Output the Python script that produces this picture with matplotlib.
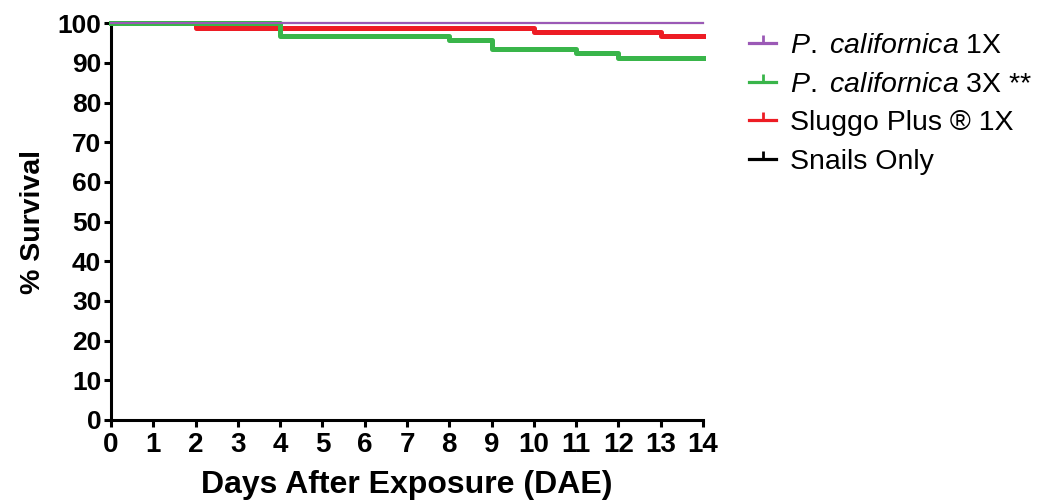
import matplotlib
matplotlib.use("Agg")
import matplotlib.pyplot as plt
from matplotlib.lines import Line2D
from matplotlib.path import Path

plt.rcParams['font.family'] = ['Liberation Sans', 'DejaVu Sans']
plt.rcParams['mathtext.fontset'] = 'custom'
plt.rcParams['mathtext.it'] = 'Liberation Sans:italic'
plt.rcParams['mathtext.rm'] = 'Liberation Sans'

# Data (Kaplan-Meier step curves)
snails_days = [0, 14]
snails_surv = [100, 100]
pc1_days = [0, 14]
pc1_surv = [100, 100]
pc3_days = [0, 4, 8, 9, 11, 12, 14]
pc3_surv = [100, 96.8, 95.7, 93.5, 92.4, 91.3, 91.3]
sluggo_days = [0, 2, 10, 13, 14]
sluggo_surv = [100, 98.9, 97.8, 96.8, 96.8]

labels = [r'$\mathit{P.}$ $\mathit{californica}$ 1X', r'$\mathit{P.}$ $\mathit{californica}$ 3X **',
          'Sluggo Plus ® 1X', 'Snails Only']
colors = ['#9B59B6', '#39B54A', '#ED1C24', '#000000']

x_ticks = list(range(0, 15))
y_ticks = list(range(0, 101, 10))

fig = plt.figure(figsize=(10.49, 5.04), dpi=100)
ax = fig.add_axes([0.1058, 0.1667, 0.5644, 0.7871])

ax.step(snails_days, snails_surv, where='post', color=colors[3], lw=1.5, clip_on=False, zorder=2)
ax.step(sluggo_days, sluggo_surv, where='post', color=colors[2], lw=3.6, clip_on=False, zorder=3)
ax.step(pc3_days, pc3_surv, where='post', color=colors[1], lw=3.6, clip_on=False, zorder=4)
ax.step(pc1_days, pc1_surv, where='post', color=colors[0], lw=1.5, clip_on=False, zorder=5)

ax.set_xlim(0, 14)
ax.set_ylim(0, 100)
ax.set_xticks(x_ticks)
ax.set_yticks(y_ticks)
for s in ['top', 'right']:
    ax.spines[s].set_visible(False)
for s in ['left', 'bottom']:
    ax.spines[s].set_linewidth(2.2)
ax.tick_params(axis='both', direction='out', length=5, width=2.2, pad=2)
ax.tick_params(axis='x', labelsize=20, pad=4)
ax.tick_params(axis='y', labelsize=19)
for lbl in ax.get_xticklabels() + ax.get_yticklabels():
    lbl.set_fontweight('bold')
ax.set_xlabel('Days After Exposure (DAE)', fontsize=23, fontweight='bold', labelpad=8)
ax.set_ylabel('% Survival', fontsize=20.5, fontweight='bold', labelpad=8)

tee = Path([(0, 0), (0, 1)], [Path.MOVETO, Path.LINETO])
handles = [Line2D([], [], color=c, lw=2.3, marker=tee, markersize=11,
                  markeredgewidth=2.0) for c in colors]
leg = fig.legend(handles, labels, loc='upper left', bbox_to_anchor=(0.714, 0.935),
                 frameon=False, fontsize=20.5, handlelength=0.95, handletextpad=0.5,
                 labelspacing=0.45, borderaxespad=0, borderpad=0)

fig.savefig('out.png', dpi=100)
